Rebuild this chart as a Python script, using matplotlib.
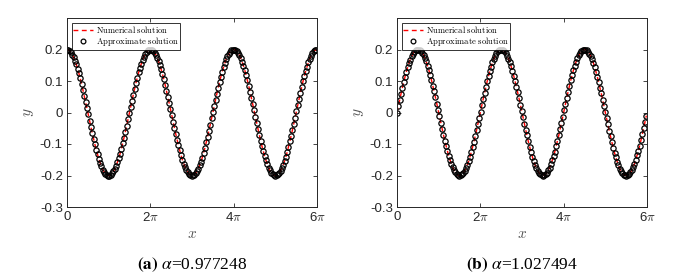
import numpy as np
import matplotlib
matplotlib.use('Agg')
import matplotlib.pyplot as plt

plt.rcParams['mathtext.fontset'] = 'cm'

# sample grid, 0 to 18.8 in steps of 0.1
x = np.linspace(0, 18.8, 189)

# (a) alpha = 0.977248
y_a = [
    0.200, 0.199, 0.196, 0.191, 0.184, 0.176, 0.165, 0.153, 0.139, 0.124, 0.108, 0.091, 0.072,
    0.053, 0.034, 0.014, -0.006, -0.026, -0.045, -0.065, -0.083, -0.101, -0.118, -0.133, -0.147,
    -0.160, -0.171, -0.181, -0.188, -0.194, -0.198, -0.200, -0.200, -0.198, -0.193, -0.187, -0.179,
    -0.170, -0.158, -0.145, -0.131, -0.115, -0.098, -0.080, -0.061, -0.042, -0.022, -0.002, 0.018,
    0.037, 0.057, 0.076, 0.094, 0.111, 0.127, 0.142, 0.155, 0.167, 0.177, 0.186, 0.192, 0.197, 0.199,
    0.200, 0.199, 0.195, 0.190, 0.183, 0.174, 0.163, 0.151, 0.137, 0.122, 0.105, 0.088, 0.069,
    0.050, 0.031, 0.011, -0.009, -0.029, -0.049, -0.068, -0.086, -0.104, -0.120, -0.136, -0.150,
    -0.162, -0.173, -0.182, -0.190, -0.195, -0.198, -0.200, -0.199, -0.197, -0.192, -0.186, -0.178,
    -0.168, -0.156, -0.143, -0.128, -0.112, -0.095, -0.077, -0.058, -0.039, -0.019, 0.001, 0.021,
    0.041, 0.060, 0.079, 0.097, 0.114, 0.130, 0.144, 0.157, 0.169, 0.179, 0.187, 0.193, 0.197, 0.200,
    0.200, 0.198, 0.195, 0.189, 0.182, 0.172, 0.161, 0.149, 0.135, 0.119, 0.102, 0.085, 0.066,
    0.047, 0.027, 0.007, -0.013, -0.032, -0.052, -0.071, -0.089, -0.107, -0.123, -0.138, -0.152,
    -0.164, -0.175, -0.184, -0.191, -0.196, -0.199, -0.200, -0.199, -0.196, -0.192, -0.185, -0.176,
    -0.166, -0.154, -0.141, -0.126, -0.109, -0.092, -0.074, -0.055, -0.036, -0.016, 0.004, 0.024,
    0.044, 0.063, 0.082, 0.100, 0.116, 0.132, 0.146, 0.159, 0.171, 0.180, 0.188, 0.194, 0.198, 0.200,
]

# (b) alpha = 1.027494
y_b = [
    0.000, 0.020, 0.040, 0.059, 0.078, 0.096, 0.113, 0.129, 0.143, 0.157, 0.168, 0.178, 0.186,
    0.193, 0.197, 0.200, 0.200, 0.198, 0.195, 0.189, 0.182, 0.173, 0.162, 0.149, 0.135, 0.120,
    0.103, 0.085, 0.067, 0.048, 0.028, 0.008, -0.012, -0.032, -0.051, -0.070, -0.089, -0.106,
    -0.122, -0.138, -0.151, -0.164, -0.174, -0.183, -0.190, -0.196, -0.199, -0.200, -0.199, -0.196,
    -0.192, -0.185, -0.177, -0.166, -0.155, -0.141, -0.126, -0.110, -0.093, -0.075, -0.056, -0.036, -0.017,
    0.003, 0.023, 0.043, 0.062, 0.081, 0.099, 0.116, 0.131, 0.146, 0.159, 0.170, 0.180, 0.188,
    0.194, 0.198, 0.200, 0.200, 0.198, 0.194, 0.188, 0.180, 0.171, 0.160, 0.147, 0.133, 0.117,
    0.100, 0.082, 0.064, 0.045, 0.025, 0.005, -0.015, -0.035, -0.054, -0.073, -0.092, -0.109,
    -0.125, -0.140, -0.154, -0.166, -0.176, -0.185, -0.191, -0.196, -0.199, -0.200, -0.199, -0.196,
    -0.191, -0.184, -0.175, -0.165, -0.152, -0.139, -0.124, -0.107, -0.090, -0.072, -0.053, -0.033, -0.013,
    0.007, 0.027, 0.046, 0.066, 0.084, 0.102, 0.118, 0.134, 0.148, 0.161, 0.172, 0.181, 0.189,
    0.195, 0.198, 0.200, 0.200, 0.197, 0.193, 0.187, 0.179, 0.169, 0.158, 0.145, 0.130, 0.114,
    0.097, 0.079, 0.061, 0.041, 0.022, 0.002, -0.018, -0.038, -0.058, -0.076, -0.095, -0.112,
    -0.128, -0.142, -0.156, -0.168, -0.178, -0.186, -0.192, -0.197, -0.199, -0.200, -0.199, -0.195,
    -0.190, -0.183, -0.174, -0.163, -0.150, -0.136, -0.121, -0.105, -0.087, -0.069, -0.049, -0.030, -0.010,
]

captions = [r'$\mathbf{(a)}$ $\alpha$=0.977248', r'$\mathbf{(b)}$ $\alpha$=1.027494']
xtick_pos = [0, 2 * np.pi, 4 * np.pi, 6 * np.pi]
xtick_lab = ['0', r'2$\pi$', r'4$\pi$', r'6$\pi$']
yticks = [-0.3, -0.2, -0.1, 0, 0.1, 0.2]
ytick_lab = ['-0.3', '-0.2', '-0.1', '0', '0.1', '0.2']

W, H = 695, 280
fig = plt.figure(figsize=(W / 100, H / 100), dpi=100)

boxes = [(67, 18, 317, 207), (397, 18, 647, 207)]
ink = '#262626'

for (l, t, r, b), yy, cap in zip(boxes, [y_a, y_b], captions):
    ax = fig.add_axes([l / W, 1 - b / H, (r - l) / W, (b - t) / H])
    ax.plot(x, yy, '--', color='red', lw=1.0, dashes=(3.5, 2.5), label=r'$\mathrm{Numerical\ solution}$')
    ax.plot(x, yy, 'o', ls='none', mfc='none', mec='black', ms=3.8, mew=0.9,
            label=r'$\mathrm{Approximate\ solution}$')
    ax.set_xlim(0, 6 * np.pi)
    ax.set_ylim(-0.3, 0.3)
    ax.set_xticks(xtick_pos)
    ax.set_xticklabels(xtick_lab)
    ax.set_yticks(yticks)
    ax.set_yticklabels(ytick_lab)
    ax.tick_params(direction='in', top=True, right=True, length=3, width=0.6,
                   colors=ink, labelsize=9.5, pad=3)
    for lab in ax.get_xticklabels() + ax.get_yticklabels():
        lab.set_fontfamily('Liberation Sans')
    for sp in ax.spines.values():
        sp.set_color(ink)
        sp.set_linewidth(0.7)
    ax.set_xlabel('$x$', fontsize=11, color='#555555', labelpad=1)
    ax.set_ylabel('$y$', fontsize=11, color='#555555', labelpad=3)
    leg = ax.legend(loc='upper left', fontsize=6.2, frameon=True, fancybox=False,
                    edgecolor='black', borderpad=0.15, labelspacing=0.0, handlelength=2.3,
                    handletextpad=0.3, borderaxespad=0.6, markerscale=0.9)
    leg.get_frame().set_linewidth(0.7)
    fig.text((l + r) / 2 / W, 1 - 265 / H, cap, ha='center', va='center',
             fontsize=12.5, fontfamily='Liberation Serif', math_fontfamily='stix')

fig.savefig('out.png', dpi=100)
